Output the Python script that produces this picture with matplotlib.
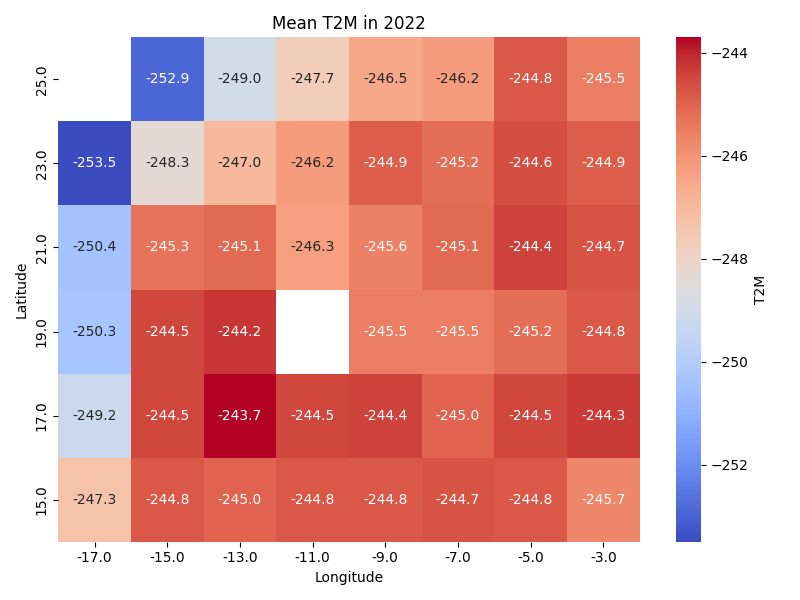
#! /usr/bin/env python

# import modules
import numpy
import pandas
import matplotlib
matplotlib.use('Agg')
import matplotlib.pyplot
import seaborn

nan = numpy.nan

# data (top row = highest latitude)
# ---------------------------------
longitude = [-17.0, -15.0, -13.0, -11.0, -9.0, -7.0, -5.0, -3.0]
latitude = [25.0, 23.0, 21.0, 19.0, 17.0, 15.0]
row_25 = [nan, -252.9, -249.0, -247.7, -246.5, -246.2, -244.8, -245.5]
row_23 = [-253.5, -248.3, -247.0, -246.2, -244.9, -245.2, -244.6, -244.9]
row_21 = [-250.4, -245.3, -245.1, -246.3, -245.6, -245.1, -244.4, -244.7]
row_19 = [-250.3, -244.5, -244.2, nan, -245.5, -245.5, -245.2, -244.8]
row_17 = [-249.2, -244.5, -243.7, -244.5, -244.4, -245.0, -244.5, -244.3]
row_15 = [-247.3, -244.8, -245.0, -244.8, -244.8, -244.7, -244.8, -245.7]

table = pandas.DataFrame([row_25, row_23, row_21, row_19, row_17, row_15],
                         index=latitude, columns=longitude)

# Plot part
# ---------
fig, ax = matplotlib.pyplot.subplots(figsize=(8, 6), dpi=100)
seaborn.heatmap(table, annot=True, fmt='.1f', cmap='coolwarm',
                cbar_kws={'label': 'T2M'}, ax=ax)
ax.set_title('Mean T2M in 2022')
ax.set_xlabel('Longitude')
ax.set_ylabel('Latitude')

fig.tight_layout()
fig.savefig('out.png')
